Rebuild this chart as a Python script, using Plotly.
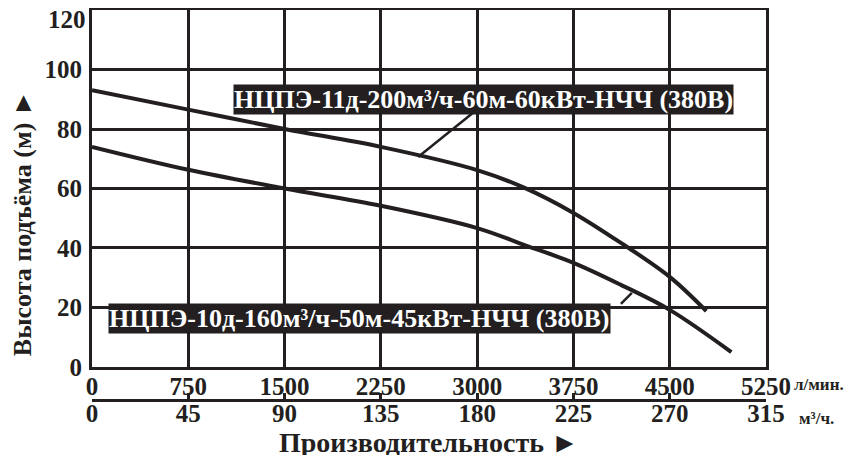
import plotly.graph_objects as go

# Pump curves: flow (l/min) vs head (m)
flow_11d = [0, 750, 1500, 2250, 3000, 3370, 3750, 4120, 4500, 4785]
head_11d = [93, 86.5, 80, 74, 66.2, 60.2, 51.8, 41.7, 30.3, 18.8]

flow_10d = [0, 750, 1500, 2250, 3000, 3370, 3750, 4120, 4500, 4980]
head_10d = [74, 66.3, 60, 54.2, 46.7, 41, 35, 27.6, 19.2, 5]

label_11d = "НЦПЭ-11д-200м³/ч-60м-60кВт-НЧЧ (380В)"
label_10d = "НЦПЭ-10д-160м³/ч-50м-45кВт-НЧЧ (380В)"

lpm_ticks = [0, 750, 1500, 2250, 3000, 3750, 4500, 5250]
m3h_ticks = [0, 45, 90, 135, 180, 225, 270, 315]
head_ticks = [0, 20, 40, 60, 80, 100, 120]

ink = "#231f20"
serif = "Liberation Serif"


def bold(vals):
    return ["<b>%s</b>" % v for v in vals]


fig = go.Figure()
for fx, hy in [(flow_11d, head_11d), (flow_10d, head_10d)]:
    fig.add_trace(go.Scatter(x=fx, y=hy, mode="lines",
                             line=dict(color=ink, width=4, shape="spline", smoothing=1),
                             showlegend=False, hoverinfo="skip"))
# empty trace on its own thin subplot, only to carry the m3/h scale
fig.add_trace(go.Scatter(x=[m3h_ticks[0], m3h_ticks[-1]], y=[None, None], xaxis="x2", yaxis="y2",
                         mode="lines", showlegend=False, hoverinfo="skip"))

tickfont = dict(family=serif, size=25, color=ink)

# top label sits a bit lower than its gridline, as in the original, so it is drawn separately
head_text = bold(head_ticks)
head_text[-1] = ""

fig.update_layout(
    width=858, height=455,
    margin=dict(l=84, r=100, t=2, b=64, autoexpand=False),
    paper_bgcolor="white", plot_bgcolor="white",
    xaxis=dict(range=[0, 5250], tickvals=lpm_ticks, ticktext=bold(lpm_ticks),
               showgrid=True, gridcolor=ink, gridwidth=2.5,
               showline=True, mirror=True, linecolor=ink, linewidth=3, zeroline=False,
               ticks="", tickfont=tickfont, anchor="y", ticklabeloverflow="allow",
               ticklabelstandoff=-5),
    yaxis=dict(domain=[0.0823, 1], range=[0, 120], tickvals=head_ticks, ticktext=head_text,
               showgrid=True, gridcolor=ink, gridwidth=2.5, showline=True, mirror=True,
               linecolor=ink, linewidth=3, zeroline=False, ticks="", tickfont=tickfont,
               ticklabeloverflow="allow", ticklabelstandoff=2),
    xaxis2=dict(range=[0, 315], tickvals=m3h_ticks, ticktext=bold(m3h_ticks), anchor="y2",
                showline=True, linecolor=ink, linewidth=2.5, ticks="inside",
                ticklen=6, tickwidth=2.5, tickcolor=ink, showgrid=False, zeroline=False,
                tickfont=tickfont, ticklabeloverflow="allow", ticklabelstandoff=-10),
    yaxis2=dict(domain=[0, 0.002], visible=False, anchor="x2"),
)

fig.add_annotation(text=bold(head_ticks)[-1], x=0, y=head_ticks[-1], xref="paper", yref="y",
                   showarrow=False, xanchor="right", yanchor="middle", xshift=-4, yshift=-9,
                   font=tickfont)

# leader lines from labels to curves
fig.add_shape(type="line", xref="x", yref="y", x0=2966, y0=85.4, x1=2540, y1=70.6,
              line=dict(color=ink, width=2.5))
fig.add_shape(type="line", xref="x", yref="y", x0=4120, y0=21.2, x1=4205, y1=24.9,
              line=dict(color=ink, width=2.5))

boxfont = dict(family=serif, size=26, color="white")
fig.add_annotation(x=3051, y=89.9, xref="x", yref="y", text="<b>%s</b>" % label_11d,
                   showarrow=False, bgcolor=ink, font=boxfont, borderpad=0)
fig.add_annotation(x=2085, y=16.3, xref="x", yref="y", text="<b>%s</b>" % label_10d,
                   showarrow=False, bgcolor=ink, font=boxfont, borderpad=0)

unitfont = dict(family=serif, size=17, color=ink)
fig.add_annotation(text="<b>л/мин.</b>", x=5250, y=0.0823, xref="x", yref="paper",
                   showarrow=False, font=unitfont, xanchor="left", yanchor="middle",
                   xshift=26, yshift=-18)
fig.add_annotation(text="<b>м³/ч.</b>", x=315, y=0, xref="x2", yref="paper",
                   showarrow=False, font=unitfont, xanchor="left", yanchor="middle",
                   xshift=31, yshift=-19)

fig.add_annotation(text="<b>Производительность ►</b>", x=0.5, y=0, xref="paper", yref="paper",
                   showarrow=False, xanchor="center", yanchor="middle", yshift=-43,
                   font=dict(family=serif, size=28, color=ink))
fig.add_annotation(text="<b>Высота подъёма (м) ►</b>", x=0, y=0.452, xref="paper", yref="paper",
                   showarrow=False, textangle=-90, xanchor="center", yanchor="middle",
                   xshift=-70, font=dict(family=serif, size=26, color=ink))

fig.write_html("out.html")
